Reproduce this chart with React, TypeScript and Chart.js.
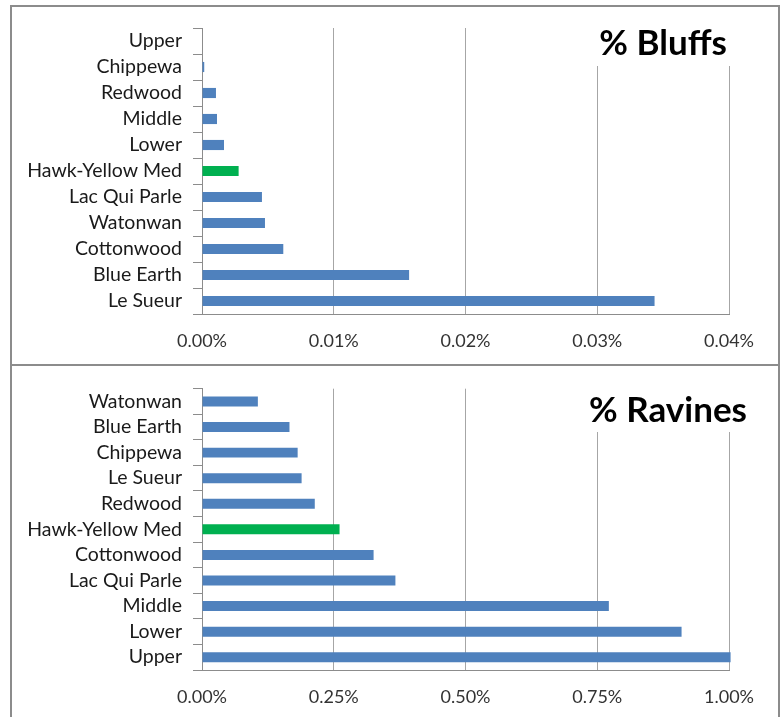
import React, { useEffect, useRef } from 'react';
import { Chart, registerables } from 'chart.js';

Chart.register(...registerables);

// ---------- data ----------
const bluffCategories = [
  'Upper', 'Chippewa', 'Redwood', 'Middle', 'Lower', 'Hawk-Yellow Med',
  'Lac Qui Parle', 'Watonwan', 'Cottonwood', 'Blue Earth', 'Le Sueur',
];
const bluffValues = [0, 0.00017, 0.00106, 0.00114, 0.00167, 0.00278, 0.00455, 0.00478, 0.00617, 0.01572, 0.03435];
const bluffTicks = [0, 0.01, 0.02, 0.03, 0.04];

const ravineCategories = [
  'Watonwan', 'Blue Earth', 'Chippewa', 'Le Sueur', 'Redwood', 'Hawk-Yellow Med',
  'Cottonwood', 'Lac Qui Parle', 'Middle', 'Lower', 'Upper',
];
const ravineValues = [0.106, 0.166, 0.1815, 0.189, 0.214, 0.261, 0.3256, 0.367, 0.772, 0.91, 1.003];
const ravineTicks = [0, 0.25, 0.5, 0.75, 1.0];

const highlightCategory = 'Hawk-Yellow Med';
const bluffTitle = '% Bluffs';
const ravineTitle = '% Ravines';

const BLUE = '#4f81bd';
const GREEN = '#00b050';
const AXIS = '#8c8c8c';
const GRID = '#a6a6a6';
const FONT = 'Lato, "Open Sans", sans-serif';

function buildConfig(
  categories: string[],
  values: number[],
  ticks: number[],
  padTop: number,
  xHeight: number
): any {
  return {
    type: 'bar',
    data: {
      labels: categories,
      datasets: [
        {
          data: values,
          backgroundColor: categories.map((c) => (c === highlightCategory ? GREEN : BLUE)),
          borderWidth: 0,
          barPercentage: 0.39,
          categoryPercentage: 1,
          clip: false,
        },
      ],
    },
    options: {
      indexAxis: 'y',
      responsive: false,
      animation: false,
      layout: { padding: { top: padTop, right: 54, bottom: 0, left: 0 } },
      plugins: {
        legend: { display: false },
        tooltip: { enabled: false },
        title: { display: false },
      },
      scales: {
        x: {
          type: 'linear',
          min: ticks[0],
          max: ticks[ticks.length - 1],
          afterBuildTicks: (s: any) => {
            s.ticks = ticks.map((v) => ({ value: v }));
          },
          afterFit: (s: any) => {
            s.height = xHeight;
          },
          grid: { color: GRID, lineWidth: 1, drawTicks: false },
          border: { color: AXIS, width: 1 },
          ticks: {
            font: { family: FONT, size: 18 },
            color: '#333333',
            padding: 16,
            maxRotation: 0,
            autoSkip: false,
            callback: (v: any) => Number(v).toFixed(2) + '%',
          },
        },
        y: {
          afterFit: (s: any) => {
            s.width = 202;
          },
          grid: {
            drawOnChartArea: false,
            drawTicks: true,
            tickLength: 9,
            color: AXIS,
            offset: true,
          },
          border: { color: AXIS, width: 1 },
          ticks: {
            font: { family: FONT, size: 19.5 },
            color: '#1a1a1a',
            padding: 11,
            autoSkip: false,
          },
        },
      },
    },
  };
}

export default function App() {
  const topRef = useRef<HTMLCanvasElement | null>(null);
  const botRef = useRef<HTMLCanvasElement | null>(null);

  useEffect(() => {
    let cancelled = false;
    const charts: Chart[] = [];
    const make = () => {
      if (cancelled) return;
      if (topRef.current) {
        charts.push(new Chart(topRef.current, buildConfig(bluffCategories, bluffValues, bluffTicks, 28, 50)));
      }
      if (botRef.current) {
        charts.push(new Chart(botRef.current, buildConfig(ravineCategories, ravineValues, ravineTicks, 22, 47)));
      }
    };
    const fonts: any = (document as any).fonts;
    if (fonts && fonts.load) {
      Promise.all([fonts.load('18px Lato'), fonts.load('19.5px Lato'), fonts.load('bold 35px Lato')])
        .catch(() => null)
        .then(make);
    } else {
      make();
    }
    return () => {
      cancelled = true;
      charts.forEach((c) => c.destroy());
    };
  }, []);

  const panelBase: React.CSSProperties = {
    position: 'absolute',
    left: 10,
    width: 770,
    boxSizing: 'border-box',
    border: `2px solid ${AXIS}`,
    background: '#ffffff',
  };
  const titleStyle: React.CSSProperties = {
    position: 'absolute',
    fontFamily: FONT,
    fontWeight: 700,
    fontSize: 35,
    lineHeight: '35px',
    color: '#000000',
    textAlign: 'right',
    whiteSpace: 'nowrap',
  };

  return (
    <div style={{ position: 'absolute', left: 0, top: 0, width: 783, height: 717, overflow: 'hidden', background: '#ffffff' }}>
      <div style={{ ...panelBase, top: 5, height: 361 }} />
      <div style={{ ...panelBase, top: 364, height: 353, borderBottom: 'none' }} />
      <canvas ref={topRef} width={783} height={364} style={{ position: 'absolute', left: 0, top: 0, width: 783, height: 364 }} />
      <canvas ref={botRef} width={783} height={351} style={{ position: 'absolute', left: 0, top: 366, width: 783, height: 351 }} />
      <div style={{ position: 'absolute', left: 588, top: 27, width: 144, height: 39, background: '#ffffff' }} />
      <div style={{ ...titleStyle, left: 427, width: 300, top: 24 }}>{bluffTitle}</div>
      <div style={{ position: 'absolute', left: 583, top: 386, width: 170, height: 46, background: '#ffffff' }} />
      <div style={{ ...titleStyle, left: 447, width: 300, top: 391 }}>{ravineTitle}</div>
    </div>
  );
}
